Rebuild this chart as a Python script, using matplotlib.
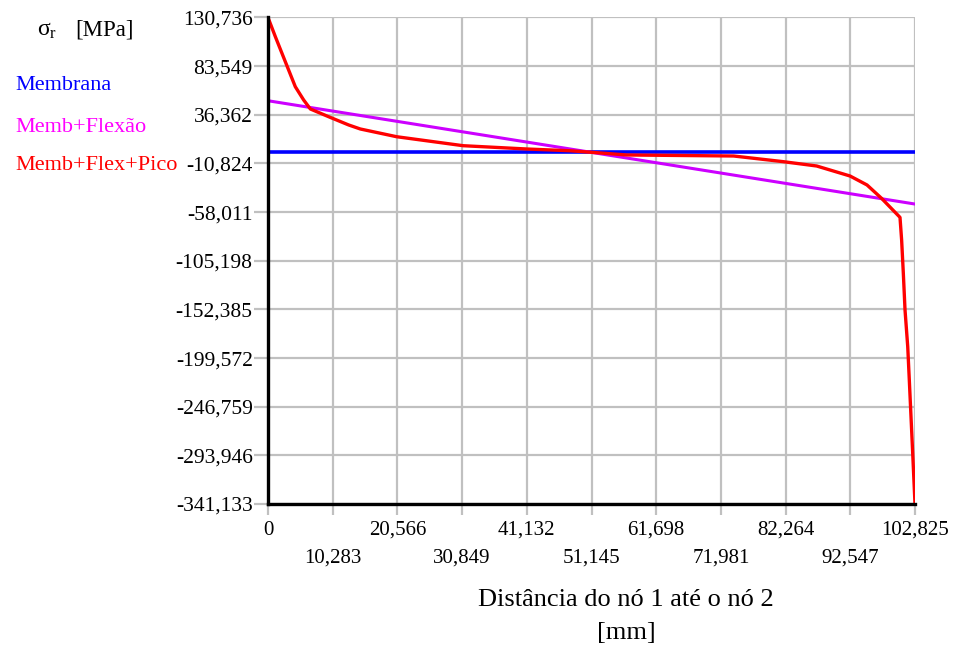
import matplotlib
matplotlib.use("Agg")
import matplotlib.pyplot as plt

# radial stress along the path from node 1 to node 2
dist_mm = [0, 1.17, 2.22, 3.28, 4.34, 5.67, 6.73, 9.64, 12.82, 14.67, 20.45,
           31.0, 41.1, 48.0, 51.4, 57.0, 74.0, 81.9, 87.2, 92.5, 95.2, 97.5,
           100.44, 100.7, 100.97, 101.24, 101.67, 101.92, 102.19, 102.46, 102.825]
peak_mpa = [130.736, 112.1, 96.0, 79.8, 63.6, 50.7, 42.0, 34.5, 26.5, 22.6, 15.1,
            6.4, 3.2, 1.5, 0.0, -2.6, -3.6, -9.1, -13.3, -23.0, -31.7, -44.6,
            -63.1, -85.1, -117.4, -153.0, -188.6, -220.9, -256.5, -292.0, -341.133]

line_x = [0, 102.825]
membrane_mpa = [0.0, 0.0]
bending_mpa = [50.0, -50.2]

series_names = ["Membrana", "Memb+Flexão", "Memb+Flex+Pico"]

y_tick_labels = ["130,736", "83,549", "36,362", "-10,824", "-58,011", "-105,198",
                 "-152,385", "-199,572", "-246,759", "-293,946", "-341,133"]
x_tick_pos = [0, 10.283, 20.566, 30.849, 41.132, 51.415, 61.698, 71.981,
              82.264, 92.547, 102.825]
x_tick_labels = ["0", "10,283", "20,566", "30,849", "41,132", "51,145", "61,698",
                 "71,981", "82,264", "92,547", "102,825"]

SERIF = ["Liberation Serif", "DejaVu Serif"]
plt.rcParams["font.family"] = SERIF
plt.rcParams["mathtext.fontset"] = "custom"
plt.rcParams["mathtext.rm"] = "Liberation Serif"
plt.rcParams["mathtext.it"] = "Liberation Serif"

BLUE = "#0000ff"
VIOLET = "#cc00ff"
RED = "#ff0000"
GRID = "#c0c0c0"

fig = plt.figure(figsize=(9.58, 6.5), dpi=100)
ax = fig.add_axes([268 / 958, 1 - 504 / 650, 647 / 958, 486.5 / 650])

ax.plot(line_x, membrane_mpa, color=BLUE, lw=2.6, zorder=3)
ax.plot(line_x, bending_mpa, color=VIOLET, lw=2.2, zorder=3)
ax.plot(dist_mm, peak_mpa, color=RED, lw=2.4, zorder=4)

y_ticks = [float(s.replace(",", ".")) for s in y_tick_labels]
ax.set_ylim(y_ticks[-1], y_ticks[0])
ax.set_xlim(0, 102.825)
ax.set_yticks(y_ticks, y_tick_labels)
ax.set_xticks(x_tick_pos, x_tick_labels)

ax.grid(True, color=GRID, lw=1.6, zorder=0)
ax.tick_params(axis="y", length=10, width=1.6, color=GRID, pad=1, labelsize=15.5)
ax.tick_params(axis="x", length=8, width=1.6, color=GRID, labelsize=15)
# staggered x labels, every other one on a lower row
for i, tick in enumerate(ax.xaxis.get_major_ticks()):
    tick.set_pad(4 if i % 2 == 0 else 24)

for side in ("top", "right"):
    ax.spines[side].set_visible(False)
for side in ("left", "bottom"):
    ax.spines[side].set_linewidth(2.4)
    ax.spines[side].set_color("black")
    ax.spines[side].set_zorder(5)

# units and series names on the left
fig.text(37 / 958, 1 - 30 / 650, r"$\mathrm{σ_r}$", fontsize=17,
         va="center", ha="left")
fig.text(75 / 958, 1 - 30 / 650, "[MPa]", fontsize=16.5, va="center", ha="left")
for name, color, yp in zip(series_names, ["#0000ff", "#ff00ff", RED], [85, 127, 165]):
    fig.text(15 / 958, 1 - yp / 650, name, color=color, fontsize=16,
             va="center", ha="left")

fig.text(626 / 958, 1 - 600 / 650, "Distância do nó 1 até o nó 2", fontsize=19,
         va="center", ha="center")
fig.text(626 / 958, 1 - 633 / 650, "[mm]", fontsize=19, va="center", ha="center")

fig.savefig("out.png", dpi=100, facecolor="white")
